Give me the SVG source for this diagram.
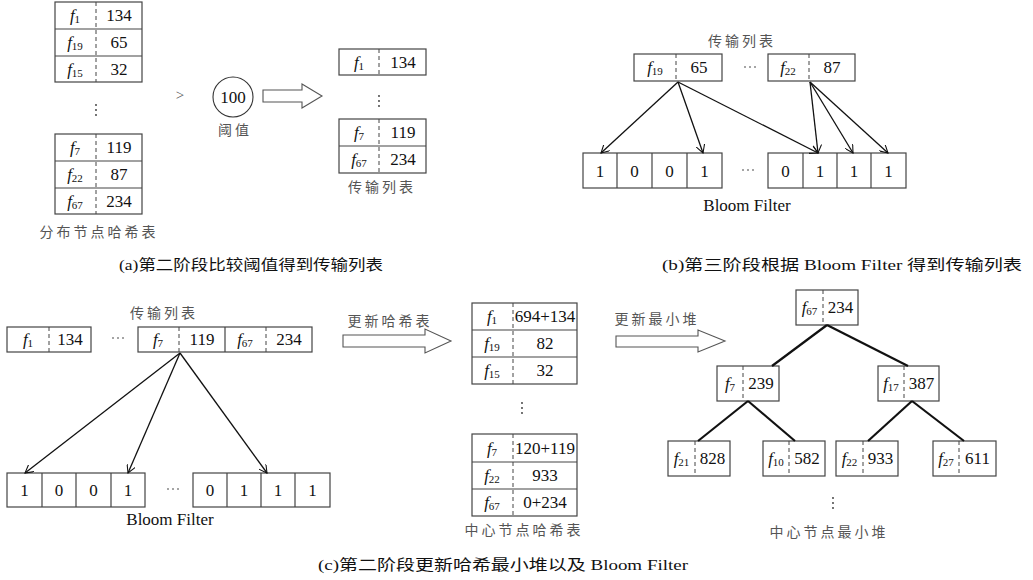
<svg xmlns="http://www.w3.org/2000/svg" width="1033" height="580" viewBox="0 0 1033 580">
<defs>
<style>
.bx{fill:none;stroke:#444;stroke-width:1.2}
.ln{stroke:#444;stroke-width:1.2}
.ds{stroke:#444;stroke-width:1;stroke-dasharray:4 3}
.t{font-family:"Liberation Serif",serif;font-size:17px;fill:#111;text-anchor:middle}
.f{font-style:italic}
.s{font-size:11px;font-style:normal}
.lbl{font-family:"Noto Sans CJK SC",sans-serif;font-size:14px;fill:#555;text-anchor:middle;letter-spacing:3px}
.cap{font-family:"Liberation Serif","Noto Sans CJK SC",serif;font-size:15px;fill:#111;text-anchor:middle}
.ar{stroke:#111;stroke-width:1.3;fill:none;marker-end:url(#v)}
.hp{stroke:#111;stroke-width:2.2}
.hol{fill:#fff;stroke:#555;stroke-width:1.1}
.dot{fill:#333}
</style>
<marker id="v" viewBox="0 0 10 10" refX="9" refY="5" markerWidth="9" markerHeight="9" orient="auto" markerUnits="userSpaceOnUse">
<path d="M0,0 L9,5 L0,10" fill="none" stroke="#111" stroke-width="1.2"/>
</marker>
</defs>

<!-- (a) distributed node hash table -->
<g id="dist-table">
<rect class="bx" x="55" y="2" width="87" height="80"/>
<line class="ln" x1="55" y1="29" x2="142" y2="29"/><line class="ln" x1="55" y1="56" x2="142" y2="56"/>
<line class="ds" x1="96" y1="2" x2="96" y2="82"/>
<text class="t" x="75" y="21"><tspan class="f">f</tspan><tspan class="s" dy="2">1</tspan></text><text class="t" x="119" y="21">134</text>
<text class="t" x="75" y="48"><tspan class="f">f</tspan><tspan class="s" dy="2">19</tspan></text><text class="t" x="119" y="48">65</text>
<text class="t" x="75" y="75"><tspan class="f">f</tspan><tspan class="s" dy="2">15</tspan></text><text class="t" x="119" y="75">32</text>
<circle class="dot" cx="96" cy="105" r="0.9"/><circle class="dot" cx="96" cy="110" r="0.9"/><circle class="dot" cx="96" cy="115" r="0.9"/>
<rect class="bx" x="55" y="134" width="87" height="80"/>
<line class="ln" x1="55" y1="161" x2="142" y2="161"/><line class="ln" x1="55" y1="188" x2="142" y2="188"/>
<line class="ds" x1="96" y1="134" x2="96" y2="214"/>
<text class="t" x="75" y="153"><tspan class="f">f</tspan><tspan class="s" dy="2">7</tspan></text><text class="t" x="119" y="153">119</text>
<text class="t" x="75" y="180"><tspan class="f">f</tspan><tspan class="s" dy="2">22</tspan></text><text class="t" x="119" y="180">87</text>
<text class="t" x="75" y="207"><tspan class="f">f</tspan><tspan class="s" dy="2">67</tspan></text><text class="t" x="119" y="207">234</text>
<text class="lbl" x="99" y="237">分布节点哈希表</text>
</g>

<g id="threshold">
<text class="t" x="180" y="100" style="fill:#555;font-size:15px">&gt;</text>
<circle cx="233" cy="97" r="20" fill="none" stroke="#333" stroke-width="1.1"/>
<text class="t" x="233" y="103">100</text>
<text class="lbl" x="235" y="135">阈值</text>
</g>

<g id="arrow-a"><polygon class="hol" points="263,90 302,90 302,84 322,96 302,108 302,102 263,102"/></g>

<g id="trans-list-a">
<rect class="bx" x="339" y="49" width="87" height="26"/>
<line class="ds" x1="379" y1="49" x2="379" y2="75"/>
<text class="t" x="359" y="68"><tspan class="f">f</tspan><tspan class="s" dy="2">1</tspan></text><text class="t" x="403" y="68">134</text>
<circle class="dot" cx="379" cy="96" r="0.9"/><circle class="dot" cx="379" cy="101" r="0.9"/><circle class="dot" cx="379" cy="106" r="0.9"/>
<rect class="bx" x="339" y="119" width="87" height="54"/>
<line class="ln" x1="339" y1="146" x2="426" y2="146"/>
<line class="ds" x1="379" y1="119" x2="379" y2="173"/>
<text class="t" x="359" y="138"><tspan class="f">f</tspan><tspan class="s" dy="2">7</tspan></text><text class="t" x="403" y="138">119</text>
<text class="t" x="359" y="165"><tspan class="f">f</tspan><tspan class="s" dy="2">67</tspan></text><text class="t" x="403" y="165">234</text>
<text class="lbl" x="382" y="192">传输列表</text>
</g>

<!-- (b) -->
<g id="trans-list-b">
<text class="lbl" x="742" y="46">传输列表</text>
<rect class="bx" x="634" y="54" width="88" height="27"/>
<line class="ds" x1="676" y1="54" x2="676" y2="81"/>
<text class="t" x="655" y="73"><tspan class="f">f</tspan><tspan class="s" dy="2">19</tspan></text><text class="t" x="699" y="73">65</text>
<circle class="dot" cx="745" cy="67" r="0.8"/><circle class="dot" cx="750" cy="67" r="0.8"/><circle class="dot" cx="755" cy="67" r="0.8"/>
<rect class="bx" x="768" y="54" width="87" height="27"/>
<line class="ds" x1="809" y1="54" x2="809" y2="81"/>
<text class="t" x="788" y="73"><tspan class="f">f</tspan><tspan class="s" dy="2">22</tspan></text><text class="t" x="832" y="73">87</text>
</g>

<g id="bloom-b">
<rect class="bx" x="583" y="153" width="139" height="35"/>
<line class="ln" x1="617" y1="153" x2="617" y2="188"/><line class="ln" x1="652" y1="153" x2="652" y2="188"/><line class="ln" x1="687" y1="153" x2="687" y2="188"/>
<text class="t" x="600" y="177">1</text><text class="t" x="634.5" y="177">0</text><text class="t" x="669.5" y="177">0</text><text class="t" x="704.5" y="177">1</text>
<circle class="dot" cx="743" cy="170" r="0.8"/><circle class="dot" cx="748" cy="170" r="0.8"/><circle class="dot" cx="753" cy="170" r="0.8"/>
<rect class="bx" x="768" y="153" width="138" height="35"/>
<line class="ln" x1="803" y1="153" x2="803" y2="188"/><line class="ln" x1="837" y1="153" x2="837" y2="188"/><line class="ln" x1="871" y1="153" x2="871" y2="188"/>
<text class="t" x="785.5" y="177">0</text><text class="t" x="820" y="177">1</text><text class="t" x="854" y="177">1</text><text class="t" x="888.5" y="177">1</text>
<text class="t" x="747" y="211">Bloom Filter</text>
</g>

<!-- (c) -->
<g id="trans-list-c">
<text class="lbl" x="164" y="318">传输列表</text>
<rect class="bx" x="7" y="327" width="84" height="25"/>
<line class="ds" x1="49" y1="327" x2="49" y2="352"/>
<text class="t" x="28" y="345"><tspan class="f">f</tspan><tspan class="s" dy="2">1</tspan></text><text class="t" x="70" y="345">134</text>
<circle class="dot" cx="113" cy="338" r="0.8"/><circle class="dot" cx="118" cy="338" r="0.8"/><circle class="dot" cx="123" cy="338" r="0.8"/>
<rect class="bx" x="138" y="327" width="174" height="25"/>
<line class="ln" x1="225" y1="327" x2="225" y2="352"/>
<line class="ds" x1="179" y1="327" x2="179" y2="352"/><line class="ds" x1="266" y1="327" x2="266" y2="352"/>
<text class="t" x="158" y="345"><tspan class="f">f</tspan><tspan class="s" dy="2">7</tspan></text><text class="t" x="202" y="345">119</text>
<text class="t" x="245" y="345"><tspan class="f">f</tspan><tspan class="s" dy="2">67</tspan></text><text class="t" x="289" y="345">234</text>
</g>

<g id="bloom-c">
<rect class="bx" x="7" y="473" width="138" height="34"/>
<line class="ln" x1="42" y1="473" x2="42" y2="507"/><line class="ln" x1="76" y1="473" x2="76" y2="507"/><line class="ln" x1="111" y1="473" x2="111" y2="507"/>
<text class="t" x="24.5" y="496">1</text><text class="t" x="59" y="496">0</text><text class="t" x="93.5" y="496">0</text><text class="t" x="128" y="496">1</text>
<circle class="dot" cx="168" cy="489" r="0.8"/><circle class="dot" cx="173" cy="489" r="0.8"/><circle class="dot" cx="178" cy="489" r="0.8"/>
<rect class="bx" x="193" y="473" width="137" height="34"/>
<line class="ln" x1="227" y1="473" x2="227" y2="507"/><line class="ln" x1="261" y1="473" x2="261" y2="507"/><line class="ln" x1="295" y1="473" x2="295" y2="507"/>
<text class="t" x="210" y="496">0</text><text class="t" x="244" y="496">1</text><text class="t" x="278" y="496">1</text><text class="t" x="312.5" y="496">1</text>
<text class="t" x="170" y="525">Bloom Filter</text>
</g>

<g id="update-hash">
<text class="lbl" x="390" y="326">更新哈希表</text>
<polygon class="hol" points="343,335 425,335 425,329 451,341 425,353 425,347 343,347"/>
</g>

<g id="central-hash">
<rect class="bx" x="472" y="303" width="105" height="81"/>
<line class="ln" x1="472" y1="330" x2="577" y2="330"/><line class="ln" x1="472" y1="357" x2="577" y2="357"/>
<line class="ds" x1="513" y1="303" x2="513" y2="384"/>
<text class="t" x="492" y="322"><tspan class="f">f</tspan><tspan class="s" dy="2">1</tspan></text><text class="t" x="545" y="322">694+134</text>
<text class="t" x="492" y="349"><tspan class="f">f</tspan><tspan class="s" dy="2">19</tspan></text><text class="t" x="545" y="349">82</text>
<text class="t" x="492" y="376"><tspan class="f">f</tspan><tspan class="s" dy="2">15</tspan></text><text class="t" x="545" y="376">32</text>
<circle class="dot" cx="522" cy="403" r="0.9"/><circle class="dot" cx="522" cy="408" r="0.9"/><circle class="dot" cx="522" cy="413" r="0.9"/>
<rect class="bx" x="472" y="434" width="105" height="82"/>
<line class="ln" x1="472" y1="462" x2="577" y2="462"/><line class="ln" x1="472" y1="489" x2="577" y2="489"/>
<line class="ds" x1="513" y1="434" x2="513" y2="516"/>
<text class="t" x="492" y="454"><tspan class="f">f</tspan><tspan class="s" dy="2">7</tspan></text><text class="t" x="545" y="454">120+119</text>
<text class="t" x="492" y="481"><tspan class="f">f</tspan><tspan class="s" dy="2">22</tspan></text><text class="t" x="545" y="481">933</text>
<text class="t" x="492" y="508"><tspan class="f">f</tspan><tspan class="s" dy="2">67</tspan></text><text class="t" x="545" y="508">0+234</text>
<text class="lbl" x="524" y="535">中心节点哈希表</text>
</g>

<g id="update-heap">
<text class="lbl" x="657" y="324">更新最小堆</text>
<polygon class="hol" points="616,336 698,336 698,330 725,341 698,352 698,347 616,347"/>
</g>

<g id="heap-root">
<rect class="bx" x="796" y="290" width="62" height="35"/><line class="ds" x1="823" y1="290" x2="823" y2="325"/>
<text class="t" x="809.5" y="313"><tspan class="f">f</tspan><tspan class="s" dy="2">67</tspan></text><text class="t" x="840.5" y="313">234</text>
</g>
<g id="heap-f7">
<rect class="bx" x="717" y="366" width="62" height="35"/><line class="ds" x1="743" y1="366" x2="743" y2="401"/>
<text class="t" x="730" y="389"><tspan class="f">f</tspan><tspan class="s" dy="2">7</tspan></text><text class="t" x="761" y="389">239</text>
</g>
<g id="heap-f17">
<rect class="bx" x="878" y="366" width="61" height="35"/><line class="ds" x1="904" y1="366" x2="904" y2="401"/>
<text class="t" x="891" y="389"><tspan class="f">f</tspan><tspan class="s" dy="2">17</tspan></text><text class="t" x="921.5" y="389">387</text>
</g>
<g id="heap-f21">
<rect class="bx" x="668" y="441" width="62" height="35"/><line class="ds" x1="695" y1="441" x2="695" y2="476"/>
<text class="t" x="681.5" y="464"><tspan class="f">f</tspan><tspan class="s" dy="2">21</tspan></text><text class="t" x="712.5" y="464">828</text>
</g>
<g id="heap-f10">
<rect class="bx" x="763" y="441" width="62" height="35"/><line class="ds" x1="789" y1="441" x2="789" y2="476"/>
<text class="t" x="776" y="464"><tspan class="f">f</tspan><tspan class="s" dy="2">10</tspan></text><text class="t" x="807" y="464">582</text>
</g>
<g id="heap-f22">
<rect class="bx" x="836" y="441" width="62" height="35"/><line class="ds" x1="863" y1="441" x2="863" y2="476"/>
<text class="t" x="849.5" y="464"><tspan class="f">f</tspan><tspan class="s" dy="2">22</tspan></text><text class="t" x="880.5" y="464">933</text>
</g>
<g id="heap-f27">
<rect class="bx" x="933" y="441" width="63" height="35"/><line class="ds" x1="959" y1="441" x2="959" y2="476"/>
<text class="t" x="946" y="464"><tspan class="f">f</tspan><tspan class="s" dy="2">27</tspan></text><text class="t" x="977.5" y="464">611</text>
</g>
<g id="heap-label">
<circle class="dot" cx="833" cy="498" r="0.9"/><circle class="dot" cx="833" cy="503" r="0.9"/><circle class="dot" cx="833" cy="508" r="0.9"/>
<text class="lbl" x="829" y="537">中心节点最小堆</text>
</g>

<g id="connectors">
<line class="ar" x1="678" y1="82" x2="601" y2="153"/>
<line class="ar" x1="678" y1="82" x2="703" y2="153"/>
<line class="ar" x1="678" y1="82" x2="818" y2="153"/>
<line class="ar" x1="810" y1="82" x2="818" y2="153"/>
<line class="ar" x1="810" y1="82" x2="853" y2="153"/>
<line class="ar" x1="810" y1="82" x2="888" y2="153"/>
<line class="ar" x1="180" y1="353" x2="25" y2="473"/>
<line class="ar" x1="180" y1="353" x2="128" y2="473"/>
<line class="ar" x1="180" y1="353" x2="267" y2="473"/>
<line class="hp" x1="827" y1="325" x2="772" y2="366"/>
<line class="hp" x1="827" y1="325" x2="908" y2="366"/>
<line class="hp" x1="748" y1="401" x2="698" y2="441"/>
<line class="hp" x1="748" y1="401" x2="795" y2="441"/>
<line class="hp" x1="912" y1="401" x2="868" y2="441"/>
<line class="hp" x1="912" y1="401" x2="964" y2="441"/>
</g>

<g id="captions">
<text class="cap" x="251" y="270" textLength="264" lengthAdjust="spacingAndGlyphs">(a)第二阶段比较阈值得到传输列表</text>
<text class="cap" x="842" y="270" textLength="360" lengthAdjust="spacingAndGlyphs">(b)第三阶段根据 Bloom Filter 得到传输列表</text>
<text class="cap" x="503" y="570" textLength="370" lengthAdjust="spacingAndGlyphs">(c)第二阶段更新哈希最小堆以及 Bloom Filter</text>
</g>
</svg>
